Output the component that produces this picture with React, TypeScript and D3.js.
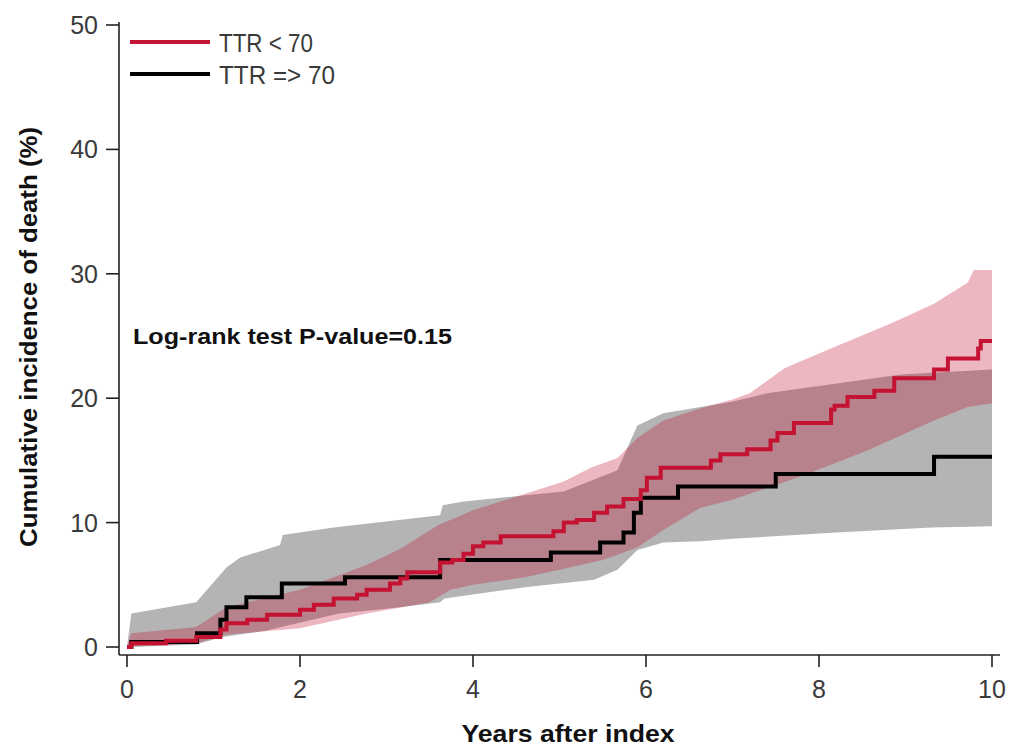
import * as d3 from "d3";

type Pt = [number, number];

// Kaplan-Meier style cumulative incidence, years -> %
const lowTtrCurve: Pt[] = [
  [0, 0], [0.05, 0.3], [0.45, 0.5], [0.8, 0.8], [1.08, 1.4], [1.15, 1.9], [1.39, 2.2],
  [1.62, 2.6], [2.0, 3.0], [2.16, 3.4], [2.39, 3.9], [2.66, 4.2], [2.77, 4.6], [3.04, 5.1],
  [3.16, 5.5], [3.24, 6.0], [3.62, 6.8], [3.76, 7.0], [3.89, 7.5], [4.0, 8.1], [4.12, 8.4],
  [4.32, 8.9], [4.93, 9.3], [5.05, 10.0], [5.2, 10.2], [5.4, 10.8], [5.55, 11.3], [5.74, 11.9],
  [5.94, 12.6], [6.01, 13.6], [6.17, 14.4], [6.75, 15.0], [6.86, 15.5], [7.17, 15.9],
  [7.44, 16.6], [7.52, 17.2], [7.71, 18.0], [8.14, 19.1], [8.18, 19.4], [8.33, 20.1],
  [8.64, 20.6], [8.87, 21.6], [9.33, 22.3], [9.49, 23.2], [9.84, 24.0], [9.87, 24.6], [10, 24.6],
];

const highTtrCurve: Pt[] = [
  [0, 0], [0.05, 0.4], [0.81, 1.1], [1.08, 2.2], [1.15, 3.2], [1.38, 4.0], [1.79, 5.1],
  [2.52, 5.6], [3.62, 7.0], [4.9, 7.6], [5.47, 8.4], [5.74, 9.2], [5.86, 10.8], [5.94, 12.0],
  [6.37, 12.9], [7.5, 13.9], [9.33, 15.3], [10, 15.3],
];

// confidence bands
const highTtrUpper: Pt[] = [
  [0, 0], [0.05, 2.7], [0.8, 3.6], [1.15, 6.4], [1.31, 7.2], [1.77, 8.2], [1.8, 9.0],
  [2.39, 9.6], [3.62, 10.6], [3.65, 11.4], [3.89, 11.7], [5.05, 12.5], [5.67, 14.2],
  [5.9, 17.8], [6.2, 18.8], [6.63, 19.3], [6.98, 19.7], [7.4, 20.4], [8.95, 21.9], [10, 22.3],
];
const highTtrLower: Pt[] = [
  [0, 0], [0.8, 0.2], [1.1, 0.8], [1.6, 1.3], [2.45, 2.7], [3.16, 3.2], [3.62, 3.6],
  [3.67, 3.9], [4.6, 4.8], [5.4, 5.4], [5.67, 6.2], [5.9, 7.8], [6.2, 8.4], [6.63, 8.5],
  [7.0, 8.7], [8.2, 9.2], [9.3, 9.6], [10, 9.7],
];
const lowTtrUpper: Pt[] = [
  [0, 0], [0.05, 1.1], [0.8, 1.6], [1.15, 3.2], [2.0, 4.6], [2.77, 6.6], [3.16, 7.9],
  [3.6, 9.8], [4.0, 11.0], [5.05, 13.3], [5.36, 14.4], [5.67, 15.2], [5.9, 16.8], [6.2, 18.2],
  [6.63, 19.2], [7.0, 19.9], [7.2, 20.4], [7.6, 22.4], [8.17, 24.1], [8.83, 26.0],
  [9.33, 27.6], [9.72, 29.3], [9.79, 30.3], [10, 30.3],
];
const lowTtrLower: Pt[] = [
  [0, 0], [0.8, 0.3], [1.15, 1.0], [2.0, 1.5], [2.77, 2.7], [3.5, 3.6], [3.74, 4.6],
  [4.0, 5.0], [4.6, 5.6], [5.0, 6.2], [5.5, 7.0], [5.9, 8.0], [6.2, 9.4], [6.63, 11.2],
  [6.98, 11.8], [7.79, 13.7], [8.56, 15.8], [9.33, 18.2], [9.72, 19.3], [10, 19.6],
];

const xTicks = [0, 2, 4, 6, 8, 10];
const yTicks = [0, 10, 20, 30, 40, 50];
const seriesLabels = ["TTR < 70", "TTR => 70"];

const RED = "#c41232";
const INK = "#222";
const font = "'Liberation Sans', Arial, sans-serif";

export default function App() {
  const width = 1009;
  const height = 750;
  const x = d3.scaleLinear().domain([0, 10]).range([127, 992]);
  const y = d3.scaleLinear().domain([0, 50]).range([647, 25]);
  const axisX = 119;
  const axisY = 655;

  const step = d3
    .line<Pt>()
    .x((d) => x(d[0]))
    .y((d) => y(d[1]))
    .curve(d3.curveStepAfter);
  const edge = d3
    .line<Pt>()
    .x((d) => x(d[0]))
    .y((d) => y(d[1]));
  const band = (upper: Pt[], lower: Pt[]) =>
    edge([...upper, ...lower.slice().reverse()]) + "Z";

  return (
    <svg
      width={width}
      height={height}
      style={{ position: "absolute", left: 0, top: 0, background: "#fff" }}
    >
      <path d={band(highTtrUpper, highTtrLower)} fill="#b4b4b4" />
      <path d={band(lowTtrUpper, lowTtrLower)} fill={RED} fillOpacity={0.3} />
      <path d={step(highTtrCurve) ?? ""} fill="none" stroke="#000" strokeWidth={4} />
      <path d={step(lowTtrCurve) ?? ""} fill="none" stroke={RED} strokeWidth={4} />

      {/* axes */}
      <line x1={axisX} x2={axisX} y1={22} y2={axisY} stroke={INK} strokeWidth={1.6} />
      <line x1={axisX} x2={1000} y1={axisY} y2={axisY} stroke={INK} strokeWidth={1.6} />
      {yTicks.map((t) => (
        <g key={t}>
          <line x1={106} x2={axisX} y1={y(t)} y2={y(t)} stroke={INK} strokeWidth={1.6} />
          <text
            x={98}
            y={y(t) + 9}
            textAnchor="end"
            fontFamily={font}
            fontSize={25}
            fill="#3a3a3a"
          >
            {t}
          </text>
        </g>
      ))}
      {xTicks.map((t) => (
        <g key={t}>
          <line x1={x(t)} x2={x(t)} y1={axisY} y2={667} stroke={INK} strokeWidth={1.6} />
          <text
            x={x(t)}
            y={698}
            textAnchor="middle"
            fontFamily={font}
            fontSize={25}
            fill="#3a3a3a"
          >
            {t}
          </text>
        </g>
      ))}

      <text
        x={568}
        y={742}
        textAnchor="middle"
        fontFamily={font}
        fontWeight="bold"
        fontSize={23}
        textLength={213}
        lengthAdjust="spacingAndGlyphs"
        fill="#111"
      >
        Years after index
      </text>
      <text
        transform="translate(37, 337) rotate(-90)"
        textAnchor="middle"
        fontFamily={font}
        fontWeight="bold"
        fontSize={23}
        textLength={420}
        lengthAdjust="spacingAndGlyphs"
        fill="#111"
      >
        Cumulative incidence of death (%)
      </text>
      <text
        x={133}
        y={344}
        fontFamily={font}
        fontWeight="bold"
        fontSize={22}
        textLength={319}
        lengthAdjust="spacingAndGlyphs"
        fill="#111"
      >
        Log-rank test P-value=0.15
      </text>

      {/* legend */}
      {seriesLabels.map((label, i) => (
        <g key={label} transform={`translate(0, ${42 + i * 32})`}>
          <line x1={130} x2={210} y1={0} y2={0} stroke={i === 0 ? RED : "#000"} strokeWidth={4} />
          <text
            x={219}
            y={10}
            fontFamily={font}
            fontSize={26}
            textLength={i === 0 ? 94 : 116}
            lengthAdjust="spacingAndGlyphs"
            fill="#3a3a3a"
          >
            {label}
          </text>
        </g>
      ))}
    </svg>
  );
}
